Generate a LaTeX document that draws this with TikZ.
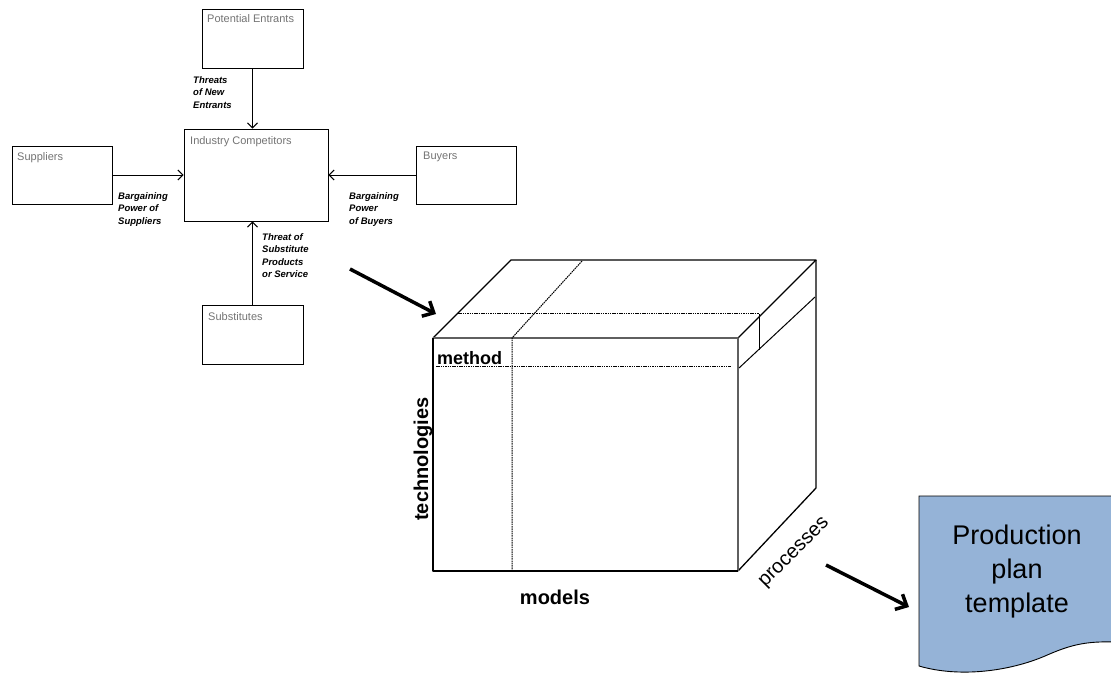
\documentclass[tikz,border=0pt]{standalone}
\usepackage{fontspec}
\setmainfont{Liberation Sans}
\usetikzlibrary{arrows.meta}
\definecolor{boxtext}{RGB}{115,115,115}
\definecolor{docfill}{RGB}{149,179,215}
\definecolor{edgegray}{RGB}{95,95,95}
\begin{document}
\begin{tikzpicture}[x=1pt,y=-1pt,
  box/.style={draw=black,line width=0.9pt,rectangle,inner sep=0pt},
  boxlbl/.style={anchor=north west,inner sep=0pt,font=\fontsize{11}{13}\selectfont,text=boxtext},
  forcelbl/.style={anchor=north west,inner sep=0pt,align=left,font=\fontsize{9.5}{12.5}\selectfont\bfseries\itshape},
  arr/.style={line width=1pt,-{Straight Barb[length=5pt,width=10pt]}},
  bigarr/.style={line width=3.5pt,-{Straight Barb[length=9pt,width=17pt]}},
  cubeedge/.style={line width=1.3pt,line join=round},
  cubedot/.style={line width=1pt,dash pattern=on 1.5pt off 0.8pt},
  axislbl/.style={inner sep=0pt,font=\fontsize{20}{22}\selectfont\bfseries}]
\useasboundingbox (0,0) rectangle (1111,672);
\clip (0,0) rectangle (1111,672);

% Porter five forces boxes
\node[box,minimum width=101pt,minimum height=59pt] (pe) at (252.5,38.5) {};
\node[box,minimum width=144pt,minimum height=92pt] (ic) at (256,175) {};
\node[box,minimum width=100pt,minimum height=58pt] (sup) at (62,175) {};
\node[box,minimum width=100pt,minimum height=58pt] (buy) at (466,175) {};
\node[box,minimum width=101pt,minimum height=59pt] (subs) at (252.5,334.5) {};

\node[boxlbl] (pel) at (207,14) {Potential Entrants};
\node[boxlbl] (icl) at (190,136) {Industry Competitors};
\node[boxlbl] (supl) at (17,152) {Suppliers};
\node[boxlbl] (buyl) at (423,152) {Buyers};
\node[boxlbl] (subsl) at (208,312) {Substitutes};

\draw[arr] (pe.south) -- (pe.south |- ic.north);
\draw[arr] (sup.east) -- (sup.east -| ic.west);
\draw[arr] (buy.west) -- (buy.west -| ic.east);
\draw[arr] (subs.north) -- (subs.north |- ic.south);

\node[forcelbl] (f1) at (193,76) {Threats\\of New\\Entrants};
\node[forcelbl] (f2) at (118,192) {Bargaining\\Power of\\Suppliers};
\node[forcelbl] (f3) at (349,192) {Bargaining\\Power\\of Buyers};
\node[forcelbl] (f4) at (262,233) {Threat of\\Substitute\\Products\\or Service};

% big arrows
\coordinate (a1s) at (350,269);
\coordinate (a1e) at (436,314);
\draw[bigarr] (a1s) -- (a1e);
\coordinate (a2s) at (826,565);
\coordinate (a2e) at (909,607);
\draw[bigarr] (a2s) -- (a2e);

% cube
\coordinate (ftl) at (433,338);
\coordinate (ftr) at (738,338);
\coordinate (fbr) at (738,571);
\coordinate (fbl) at (433,571);
\coordinate (btl) at (511,260);
\coordinate (btr) at (816,260);
\coordinate (bbr) at (816,488);

\draw[cubeedge] (ftl) -- (btl) -- (btr) -- (ftr);
\draw[cubeedge] (btr) -- (bbr) -- (fbr);
\draw[cubeedge,edgegray] (ftl) -- (ftr) -- (fbr);
\draw[cubeedge,line width=1.6pt] (ftl) -- (fbl) -- (fbr);

\draw[cubedot] (582,261) -- (512,338) -- (512,571);
\draw[cubedot] (458,313) -- (759,313);
\draw[cubedot] (436,366) -- (731,366);
\draw[line width=1pt] (739,368) -- (815,297);
\draw[line width=1pt] (759,314) -- (759,350);

\node[axislbl,font=\fontsize{18}{20}\selectfont\bfseries,anchor=base west] (meth) at (437,364) {method};
\node[axislbl,rotate=90] (tech) at (423,459) {technologies};
\node[axislbl] (mod) at (555,597) {models};
\node[inner sep=0pt,font=\fontsize{20}{22}\selectfont,rotate=45] (proc) at (795,553) {processes};

% production plan template document
\draw[fill=docfill,line width=0.9pt] (919,496) -- (1116,496) -- (1116,642)
  .. controls (1085,641) and (1070,645) .. (1045,656)
  .. controls (1010,671) and (960,678) .. (919,666) -- cycle;
\node[align=center,inner sep=0pt,font=\fontsize{27}{34}\selectfont] (doc) at (1017,572) {Production\\plan\\template};
\end{tikzpicture}
\end{document}
